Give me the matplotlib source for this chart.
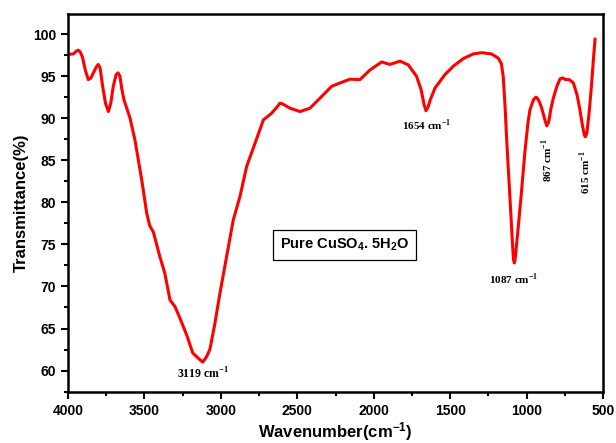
import numpy as np
import matplotlib.pyplot as plt
from matplotlib.ticker import MultipleLocator

# FTIR spectrum
wavenumber = [4000, 3965, 3945, 3933, 3920, 3906, 3885, 3867, 3850, 3834, 3815, 3802,
              3790, 3775, 3755, 3736, 3720, 3704, 3685, 3673, 3660, 3648, 3634, 3594,
              3562, 3518, 3485, 3465, 3442, 3400, 3367, 3333, 3300, 3267, 3224, 3184,
              3150, 3119, 3095, 3072, 3040, 3006, 2962, 2919, 2875, 2831, 2777, 2722,
              2668, 2630, 2613, 2595, 2548, 2482, 2417, 2351, 2275, 2221, 2155, 2090,
              2024, 1948, 1894, 1828, 1774, 1720, 1690, 1670, 1658, 1645, 1630, 1599,
              1534, 1479, 1414, 1349, 1294, 1229, 1185, 1165, 1153, 1141, 1130, 1108,
              1095, 1086, 1080, 1074, 1060, 1038, 1010, 990, 978, 955, 940, 930, 915,
              901, 880, 868, 855, 840, 825, 800, 780, 765, 745, 721, 694, 670, 651, 635,
              622, 615, 605, 590, 575, 562, 552]
transmittance = [97.6, 97.65, 98.0, 98.1, 97.9, 97.3, 95.6, 94.6, 94.8, 95.4, 96.1, 96.4,
                 96.0, 94.0, 91.8, 90.8, 91.8, 93.8, 95.2, 95.4, 95.0, 93.5, 92.2, 90.0,
                 87.4, 82.7, 78.7, 77.2, 76.5, 73.6, 71.6, 68.4, 67.6, 66.2, 64.25, 62.1,
                 61.5, 61.0, 61.6, 62.5, 65.5, 69.2, 73.6, 77.9, 80.7, 84.3, 87.0, 89.8,
                 90.6, 91.4, 91.8, 91.7, 91.2, 90.8, 91.2, 92.4, 93.8, 94.2, 94.65, 94.6,
                 95.75, 96.7, 96.4, 96.8, 96.35, 95.0, 93.4, 91.6, 90.9, 91.3, 92.2, 93.6,
                 95.2, 96.2, 97.1, 97.65, 97.8, 97.65, 97.15, 96.5, 95.0, 91.5, 87.4, 80.3,
                 76.0, 73.2, 72.8, 73.4, 76.0, 80.3, 86.2, 89.6, 91.0, 92.2, 92.5, 92.4, 91.9,
                 91.2, 89.8, 89.1, 89.6, 91.2, 92.4, 93.9, 94.7, 94.8, 94.6, 94.6, 94.2,
                 92.8, 91.0, 89.2, 88.0, 87.8, 88.3, 90.8, 94.0, 97.2, 99.4]

peak_labels = ["3119", "1654", "1087", "867", "615"]
peak_pos = [(3119, 59.6), (1654, 89.1), (1087, 70.9), (867, 85.0), (615, 83.6)]
peak_rot = [0, 0, 0, 90, 90]
peak_size = [8.5, 8, 8, 8, 8]

sans = ["Liberation Sans", "DejaVu Sans"]
serif = ["Liberation Serif", "DejaVu Serif"]
plt.rcParams["font.family"] = sans
plt.rcParams["font.weight"] = "bold"
plt.rcParams["mathtext.fontset"] = "custom"
plt.rcParams["mathtext.rm"] = "Liberation Sans:bold"
plt.rcParams["mathtext.it"] = "Liberation Sans:bold"
plt.rcParams["mathtext.bf"] = "Liberation Sans:bold"

fig = plt.figure(figsize=(6.16, 4.43), dpi=100)
ax = fig.add_axes([68 / 616, 1 - 392 / 443, (603 - 68) / 616, (392 - 14) / 443])

ax.plot(wavenumber, transmittance, color="red", lw=2.2)

ax.set_xlim(4000, 500)
ax.set_ylim(57.45, 102.4)
ax.xaxis.set_major_locator(MultipleLocator(500))
ax.xaxis.set_minor_locator(MultipleLocator(250))
ax.yaxis.set_major_locator(MultipleLocator(5))
ax.yaxis.set_minor_locator(MultipleLocator(2.5))
ax.tick_params(which="both", direction="out", width=1.5, top=False, right=False)
ax.tick_params(which="major", length=5, labelsize=10)
ax.tick_params(which="minor", length=3)
for sp in ax.spines.values():
    sp.set_linewidth(1.8)

ax.set_xlabel("Wavenumber(cm$^{-1}$)", fontsize=12, fontweight="bold", labelpad=2)
ax.set_ylabel("Transmittance(%)", fontsize=12, fontweight="bold", labelpad=3)

for lab, (px, py), rot, fs in zip(peak_labels, peak_pos, peak_rot, peak_size):
    ax.text(px, py, lab + r" cm$^{\mathregular{-1}}$", fontsize=fs, family=serif,
            fontweight="bold", rotation=rot, ha="center", va="center")

ax.text(2190, 74.9, "Pure CuSO$_4$. 5H$_2$O", fontsize=10.5, fontweight="bold",
        ha="center", va="center",
        bbox=dict(boxstyle="square,pad=0.45", fc="white", ec="black", lw=0.9))

fig.savefig("out.png", dpi=100)
